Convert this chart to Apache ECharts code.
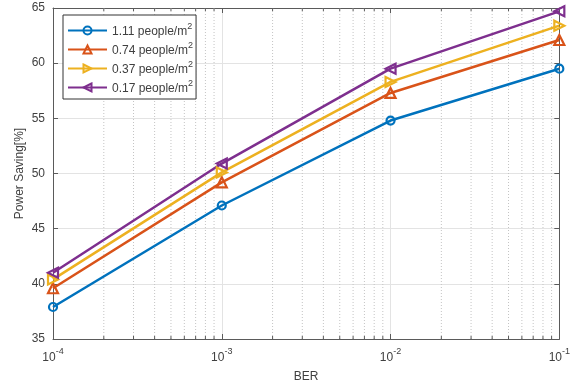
<!DOCTYPE html>
<html>
<head>
<meta charset="utf-8">
<script src="https://cdn.jsdelivr.net/npm/echarts@6/dist/echarts.min.js"></script>
<style>
  html, body { margin: 0; padding: 0; background: #fff; }
  #chart { width: 573px; height: 388px; }
</style>
</head>
<body>
<div id="chart"></div>
<script>
// Bit error rate (x) and power saving in percent for four crowd densities
const ber = [1e-4, 1e-3, 1e-2, 1e-1];
const saving111 = [37.9, 47.1, 54.8, 59.5];
const saving074 = [39.6, 49.2, 57.3, 62.1];
const saving037 = [40.4, 50.1, 58.3, 63.4];
const saving017 = [41.0, 50.9, 59.5, 64.7];
const seriesNames = ['1.11 people/m²', '0.74 people/m²', '0.37 people/m²', '0.17 people/m²'];
const yTicks = [35, 40, 45, 50, 55, 60, 65];

const colors = ['#0072BD', '#D95319', '#EDB120', '#7E2F8E'];
const FONT = '"Liberation Sans", Arial, Helvetica, sans-serif';
const AXIS_COLOR = '#5a5a5a';
const TEXT_COLOR = '#404040';

// Minor decade positions (2..9 x 10^k) for the log axis grid
const minorX = [];
for (let e = -4; e < -1; e++) {
  for (let m = 2; m <= 9; m++) minorX.push(m * Math.pow(10, e));
}

const chart = echarts.init(document.getElementById('chart'), null, { renderer: 'canvas' });

const triRight = 'path://M0,0 L10,5 L0,10 Z';
const triLeft = 'path://M10,0 L0,5 L10,10 Z';
const triUp = 'path://M5,0 L10,10 L0,10 Z';

function lineSeries(name, values, color, symbol, size) {
  return {
    name: name,
    type: 'line',
    data: ber.map((b, i) => [b, values[i]]),
    color: color,
    symbol: symbol,
    symbolSize: size,
    lineStyle: { width: 2.5, color: color },
    itemStyle: { color: 'rgba(255,255,255,0)', borderColor: color, borderWidth: 2.2 },
    emphasis: { disabled: true },
    animation: false,
    z: 5
  };
}

const superscriptRich = {
  b: { fontSize: 12, fontFamily: FONT, color: TEXT_COLOR, verticalAlign: 'bottom', lineHeight: 15 },
  s: { fontSize: 9, fontFamily: FONT, color: TEXT_COLOR, verticalAlign: 'bottom', lineHeight: 8, padding: [0, 0, 7, 0] }
};

const option = {
  backgroundColor: '#fff',
  animation: false,
  grid: { left: 53, right: 11, top: 8, bottom: 49, containLabel: false },
  legend: {
    left: 63, top: 15,
    orient: 'vertical',
    padding: [7, 3, 4, 4],
    itemWidth: 39, itemHeight: 10, itemGap: 3,
    backgroundColor: '#fff',
    borderColor: '#333', borderWidth: 1,
    data: seriesNames,
    formatter: function (name) {
      return '{b|' + name.replace('²', '}{s|2}');
    },
    textStyle: { rich: superscriptRich },
    selectedMode: false
  },
  xAxis: [{
    type: 'log', logBase: 10, min: 1e-4, max: 1e-1,
    name: 'BER', nameLocation: 'middle', nameGap: 32,
    nameTextStyle: { fontSize: 12, fontFamily: FONT, color: TEXT_COLOR },
    axisLine: { lineStyle: { color: AXIS_COLOR, width: 1 } },
    axisTick: { inside: true, length: 5, lineStyle: { color: AXIS_COLOR } },
    axisLabel: {
      margin: 8,
      formatter: function (v) {
        const e = Math.round(Math.log10(v));
        return '{b|10}{s|' + e + '}';
      },
      rich: {
        b: { fontSize: 12, fontFamily: FONT, color: TEXT_COLOR, verticalAlign: 'bottom', lineHeight: 17 },
        s: { fontSize: 9, fontFamily: FONT, color: TEXT_COLOR, verticalAlign: 'bottom', lineHeight: 17, padding: [0, 0, 8, 0] }
      }
    },
    splitLine: { show: true, lineStyle: { color: '#e3e3e3', width: 1 } }
  }, {
    type: 'log', logBase: 10, min: 1e-4, max: 1e-1, position: 'top',
    axisLine: { lineStyle: { color: AXIS_COLOR, width: 1 } },
    axisTick: { inside: true, length: 5, lineStyle: { color: AXIS_COLOR } },
    axisLabel: { show: false },
    splitLine: { show: false }
  }],
  yAxis: [{
    type: 'value', min: 35, max: 65, interval: 5,
    name: 'Power Saving[%]', nameLocation: 'middle', nameGap: 27,
    nameMoveOverlap: false,
    nameTextStyle: { fontSize: 12, fontFamily: FONT, color: TEXT_COLOR },
    axisLine: { show: true, lineStyle: { color: AXIS_COLOR, width: 1 } },
    axisTick: { show: true, inside: true, length: 5, lineStyle: { color: AXIS_COLOR } },
    axisLabel: { fontSize: 12, fontFamily: FONT, color: TEXT_COLOR, margin: 8,
      formatter: function (v) { return yTicks.indexOf(v) >= 0 ? String(v) : ''; } },
    splitLine: { show: true, lineStyle: { color: '#e3e3e3', width: 1 } }
  }, {
    type: 'value', min: 35, max: 65, interval: 5, position: 'right',
    axisLine: { show: true, lineStyle: { color: AXIS_COLOR, width: 1 } },
    axisTick: { show: true, inside: true, length: 5, lineStyle: { color: AXIS_COLOR } },
    axisLabel: { show: false },
    splitLine: { show: false }
  }],
  series: [
    {
      // dotted minor grid lines and minor ticks of the log axis
      type: 'custom',
      silent: true,
      z: 1,
      data: minorX.map(v => [v]),
      renderItem: function (params, api) {
        const x = api.coord([api.value(0), 35])[0];
        const cs = params.coordSys;
        const top = cs.y, bottom = cs.y + cs.height;
        return {
          type: 'group',
          children: [
            { type: 'line', shape: { x1: x, y1: top, x2: x, y2: bottom },
              style: { stroke: '#c4c4c4', lineWidth: 1, lineDash: [1, 2] } },
            { type: 'line', shape: { x1: x, y1: bottom, x2: x, y2: bottom - 3 },
              style: { stroke: AXIS_COLOR, lineWidth: 1 } },
            { type: 'line', shape: { x1: x, y1: top, x2: x, y2: top + 3 },
              style: { stroke: AXIS_COLOR, lineWidth: 1 } }
          ]
        };
      }
    },
    lineSeries(seriesNames[0], saving111, colors[0], 'circle', 8),
    lineSeries(seriesNames[1], saving074, colors[1], triUp, 10),
    lineSeries(seriesNames[2], saving037, colors[2], triRight, 10),
    lineSeries(seriesNames[3], saving017, colors[3], triLeft, 10)
  ]
};

chart.setOption(option);
</script>
</body>
</html>
